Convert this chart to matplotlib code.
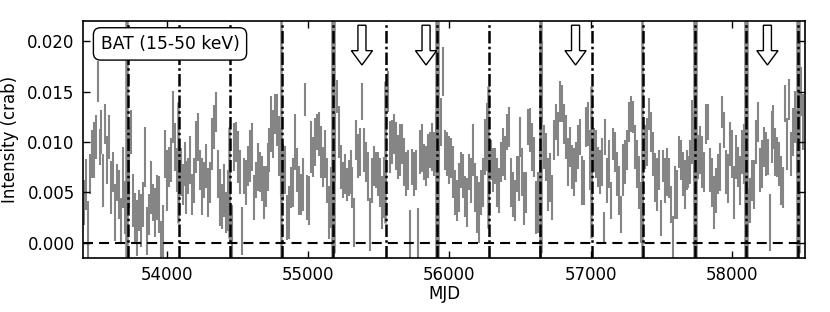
import numpy as np
import matplotlib
matplotlib.use('Agg')
import matplotlib.pyplot as plt
from matplotlib.patches import FancyArrow

# BAT light curve, 14-day bins starting at MJD 53410, rates in 1e-4 crab
t0 = 53410
bin_days = 14
rate_e4 = [
    40, 58, 12, 68, 88, 92, 105, 160, 95, 110, 62, 118, 82, 105, 55, 70, 30, 60, 48, 22, 65, 35, 20,
    75, 110, 42, 25, 15, 32, 22, 38, 85, 12, 28, 55, 40, 30, 45, 38, 2, 12, 88, 62, 75, 82, 125, 95, 72, 65,
    70, 58, 78, 55, 66, 82, 48, 62, 95, 105, 72, 56, 62, 76, 50, 60, 98, 115, 130, 68, 45, 36, 52, 30, 42, 35,
    8, 95, 100, 85, 70, 12, 66, 60, 76, 86, 95, 45, 62, 75, 70, 64, 50, 56, 75, 92, 118, 108, 128, 122, 96, 80,
    70, 72, 25, 30, 55, 60, 100, 72, 52, 48, 58, 142, 45, 42, 95, 85, 100, 110, 108, 90, 75, 88, 62, 30, 45, 70,
    95, 145, 110, 75, 62, 68, 58, 64, 70, 55, 20, 102, 86, 90, 140, 92, 80, 66, 18, 62, 76, 72, 68, 60, 40, 55,
    90, 150, 95, 100, 108, 96, 85, 92, 98, 80, 68, 72, 5, 75, 68, 72, 5, 90, 94, 80, 76, 86, 92, 95, 88, 100,
    110, 85, 120, 170, 92, 88, 82, 84, 70, 50, 42, 55, 72, 66, 46, 40, 70, 62, 92, 55, 38, 30, 50, 60, 95, 105,
    70, 82, 72, 76, 60, 52, 80, 90, 84, 110, 115, 60, 48, 42, 68, 64, 105, 70, 44, 50, 115, 112, 95, 85, 35, 40,
    60, 160, 95, 85, 58, 65, 45, 102, 120, 108, 140, 138, 118, 105, 80, 95, 75, 70, 80, 95, 105, 62, 60, 115, 118, 82,
    65, 92, 88, 75, 70, 80, 15, 105, 62, 78, 42, 98, 90, 68, 52, 28, 72, 80, 92, 120, 128, 125, 95, 78, 60, 30,
    40, 95, 100, 128, 110, 88, 65, 58, 72, 25, 76, 62, 70, 64, 38, 5, 50, 48, 90, 82, 68, 58, 72, 70, 80, 110,
    95, 110, 85, 92, 80, 70, 118, 120, 72, 60, 40, 52, 68, 75, 130, 112, 70, 64, 98, 88, 50, 85, 75, 62, 90, 88,
    55, 30, 42, 62, 58, 100, 120, 72, 78, 95, 88, 85, 20, 105, 115, 90, 85, 78, 62, 55, 138, 98, 142, 88, 110, 125, 100,
    130, 150, 120,
]
err_e4 = [
    22, 25, 30, 20, 24, 28, 22, 20, 18, 22, 26, 20, 24, 22, 26, 20, 28, 18, 24, 22, 30, 26, 28,
    40, 22, 26, 24, 28, 20, 26, 22, 30, 24, 20, 26, 18, 24, 22, 28, 20, 26, 24, 30, 20, 22, 26, 24, 22, 28,
    24, 20, 22, 26, 18, 24, 20, 22, 26, 24, 20, 28, 18, 22, 24, 20, 26, 22, 20, 24, 28, 22, 26, 20, 30, 34,
    30, 24, 20, 26, 22, 24, 18, 22, 20, 26, 24, 22, 18, 24, 20, 22, 26, 20, 24, 22, 28, 24, 20, 26, 30, 34,
    28, 24, 22, 26, 20, 24, 28, 22, 24, 20, 26, 16, 22, 24, 26, 20, 24, 18, 22, 26, 20, 24, 22, 26, 30, 36,
    34, 16, 26, 22, 18, 20, 16, 18, 22, 20, 24, 20, 22, 24, 18, 22, 20, 24, 26, 22, 20, 18, 22, 24, 26, 30,
    32, 20, 26, 22, 20, 24, 22, 26, 20, 24, 22, 20, 28, 18, 22, 20, 30, 22, 24, 18, 20, 22, 18, 24, 22, 30,
    34, 22, 24, 24, 20, 22, 24, 20, 26, 22, 20, 24, 18, 22, 20, 24, 18, 22, 26, 24, 28, 30, 22, 24, 28, 34,
    30, 20, 22, 18, 24, 22, 20, 24, 22, 18, 20, 24, 22, 20, 18, 22, 20, 24, 26, 20, 18, 22, 24, 20, 26, 30,
    32, 40, 22, 24, 26, 24, 22, 20, 18, 22, 20, 18, 20, 22, 24, 20, 22, 24, 20, 22, 18, 24, 22, 20, 22, 30,
    34, 22, 24, 20, 22, 24, 16, 18, 22, 24, 18, 16, 20, 22, 24, 18, 26, 22, 20, 20, 18, 16, 22, 24, 26, 30,
    34, 22, 24, 16, 20, 22, 24, 26, 20, 18, 16, 22, 24, 20, 18, 22, 26, 24, 16, 20, 22, 24, 20, 16, 22, 32,
    34, 26, 22, 24, 26, 20, 20, 18, 22, 24, 26, 22, 20, 24, 16, 18, 22, 24, 22, 24, 26, 22, 20, 24, 22, 30,
    34, 24, 22, 20, 24, 22, 20, 22, 24, 20, 22, 18, 28, 26, 22, 24, 20, 22, 24, 20, 18, 26, 20, 22, 24, 26, 32,
    20, 24, 28,
]

# poorly constrained bins next to the yearly lines (large errors)
gap_mjd = [53709, 53716, 54077, 54441, 54806, 55168, 55181, 55542, 55906, 55919, 56273,
           56639, 56651, 57006, 57368, 57731, 57744, 58093, 58105, 58464, 58476]
gap_rate_e4 = [100, 110, 80, 60, 100, 100, 110, 90, 100, 110, 85,
               100, 110, 80, 100, 100, 105, 100, 95, 100, 110]
gap_err_e4 = [130, 125, 60, 55, 130, 130, 120, 70, 130, 125, 70,
              130, 120, 75, 130, 130, 125, 130, 125, 130, 120]

# dash-dot vertical markers and arrow positions (MJD)
sun_lines = [53723, 54083, 54447, 54813, 55175, 55548, 55913, 56279,
             56645, 57012, 57374, 57738, 58099, 58470]
arrow_mjd = [55381, 55835, 56894, 58253]

plt.rcParams['xtick.direction'] = 'in'
plt.rcParams['ytick.direction'] = 'in'
plt.rcParams['xtick.top'] = True
plt.rcParams['ytick.right'] = True
plt.rcParams['font.size'] = 12

fig = plt.figure(figsize=(8.3, 3.12), dpi=100)
ax = fig.add_axes([0.1, 0.173, 0.87, 0.76])

t = t0 + bin_days * np.arange(len(rate_e4))
rate = np.array(rate_e4) * 1e-4
err = np.array(err_e4) * 1e-4

ax.errorbar(t, rate, yerr=err, fmt='none', ecolor='#858585', elinewidth=1.5, capsize=0, zorder=1)
ax.errorbar(gap_mjd, np.array(gap_rate_e4) * 1e-4, yerr=np.array(gap_err_e4) * 1e-4,
            fmt='none', ecolor='#858585', elinewidth=1.8, capsize=0, zorder=1)

for x in sun_lines:
    ax.axvline(x, color='k', lw=1.8, ls=(0, (5, 1.3, 1.0, 1.3)), zorder=3)
ax.axhline(0.0, color='k', lw=1.5, ls=(0, (4.8, 2.9)), zorder=3)

for x in arrow_mjd:
    arr = FancyArrow(x, 0.02157, 0, -0.00394, width=57, head_width=150,
                     head_length=0.00142, length_includes_head=True,
                     fc='white', ec='k', lw=1.0, zorder=4)
    ax.add_patch(arr)

ax.text(0.1205, 0.903, 'BAT (15-50 keV)', transform=ax.transAxes, ha='center', va='center',
        fontsize=12.3, zorder=5,
        bbox=dict(boxstyle='round,pad=0.42', fc='white', ec='k', lw=1.0))

ax.set_xlim(53405, 58520)
ax.set_ylim(-0.0015, 0.022)
ax.set_xticks([54000, 55000, 56000, 57000, 58000])
ax.set_yticks([0.0, 0.005, 0.010, 0.015, 0.020])
ax.set_yticklabels(['%.3f' % v for v in [0.0, 0.005, 0.010, 0.015, 0.020]])
ax.tick_params(length=5, width=1, pad=6)
for s in ax.spines.values():
    s.set_linewidth(1.2)

ax.set_xlabel('MJD')
ax.set_ylabel('Intensity (crab)')
ax.xaxis.set_label_coords(0.5, -0.114)
ax.yaxis.set_label_coords(-0.0893, 0.5)

fig.savefig('out.png', dpi=100)
